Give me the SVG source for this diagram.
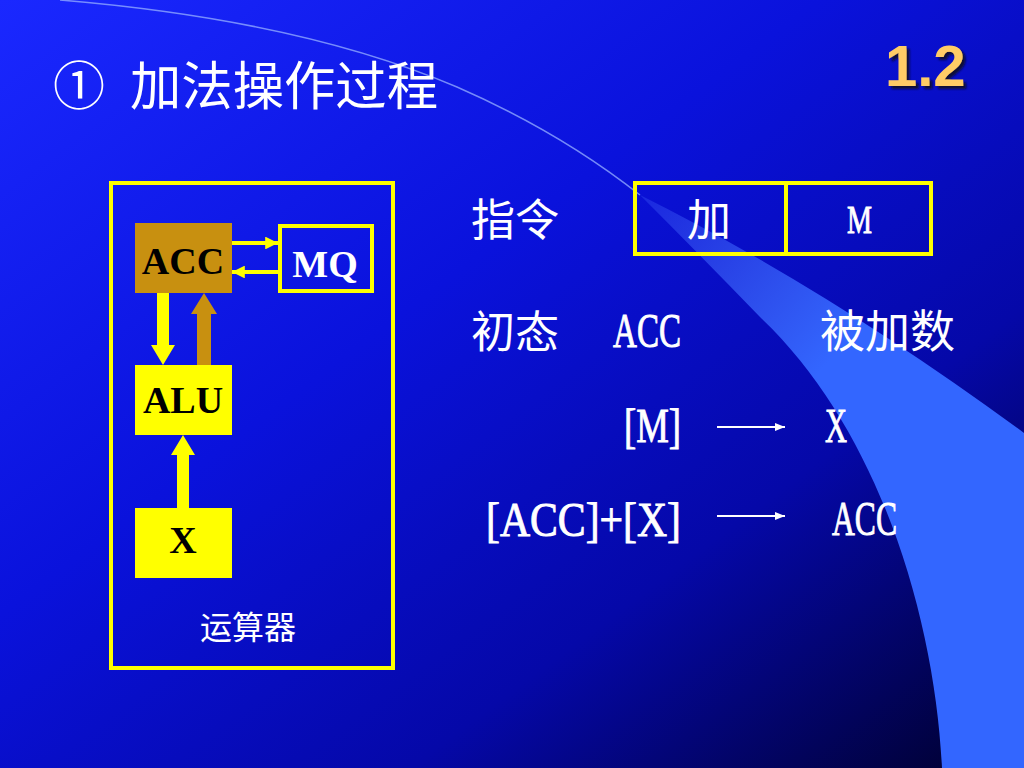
<svg xmlns="http://www.w3.org/2000/svg" width="1024" height="768" viewBox="0 0 1024 768">
<defs>
<linearGradient id="bg" x1="0" y1="0" x2="1" y2="1">
<stop offset="0" stop-color="#1a28ff"/>
<stop offset="0.4" stop-color="#0a12dc"/>
<stop offset="0.7" stop-color="#0508a8"/>
<stop offset="1" stop-color="#00002a"/>
</linearGradient>
<linearGradient id="band" gradientUnits="userSpaceOnUse" x1="640" y1="195" x2="830" y2="360">
<stop offset="0" stop-color="#4a6cff" stop-opacity="0.25"/>
<stop offset="1" stop-color="#3366ff" stop-opacity="1"/>
</linearGradient>
<filter id="shadow" x="-10%" y="-10%" width="130%" height="130%">
<feDropShadow dx="3" dy="3" stdDeviation="0.8" flood-color="#10102a" flood-opacity="0.9"/>
</filter>
<marker id="wa" viewBox="0 0 10 10" refX="10" refY="5" markerWidth="5" markerHeight="5" orient="auto" markerUnits="strokeWidth">
<path d="M0,1 L10,5 L0,9 Z" fill="#ffffff"/>
</marker>
<marker id="ya" viewBox="0 0 10 10" refX="10" refY="5" markerWidth="3.2" markerHeight="3.2" orient="auto" markerUnits="strokeWidth">
<path d="M0,0 L10,5 L0,10 Z" fill="#ffff00"/>
</marker>
</defs>
<style>
.cjk{font-family:"Noto Sans CJK SC","Noto Sans",sans-serif;fill:#ffffff}
.ser{font-family:"Liberation Serif",serif;fill:#ffffff;stroke:#ffffff;stroke-width:0.9}
.bold{font-family:"Liberation Serif",serif;font-weight:bold}
.ybox{fill:none;stroke:#ffff00;stroke-width:4}
</style>
<rect width="1024" height="768" fill="url(#bg)"/>
<path d="M640,195 Q830,290 1024,433 L1024,768 L942,768 C935,620 880,430 760,317 Q700,255 640,195 Z" fill="url(#band)"/>
<path d="M60,0 Q300,20 457,87 Q560,132 640,195" fill="none" stroke="#8fa8ff" stroke-width="1.5" stroke-opacity="0.8"/>

<g id="title">
<text class="cjk" x="53" y="105" font-size="52">①</text>
<text class="cjk" x="130" y="105" font-size="52" textLength="308" lengthAdjust="spacingAndGlyphs">加法操作过程</text>
</g>
<g id="pagenum">
<text x="885" y="86" font-family="Liberation Sans,Arial,sans-serif" font-weight="bold" font-size="58" fill="#ffcc66" filter="url(#shadow)">1.2</text>
</g>

<g id="alu-unit">
<rect x="111" y="183" width="282" height="485" class="ybox" stroke-width="4.5"/>
<text class="cjk" x="248" y="639" font-size="32" text-anchor="middle">运算器</text>
</g>
<g id="acc">
<rect x="135" y="223" width="97" height="70" fill="#c89010"/>
<text class="bold" x="183" y="274" font-size="38" text-anchor="middle" fill="#000000">ACC</text>
</g>
<g id="mq">
<rect x="280" y="226" width="92" height="65" class="ybox"/>
<text class="bold" x="325" y="277" font-size="38" text-anchor="middle" fill="#ffffff">MQ</text>
</g>
<g id="alu">
<rect x="135" y="365" width="97" height="70" fill="#ffff00"/>
<text class="bold" x="183" y="413" font-size="38" text-anchor="middle" fill="#000000">ALU</text>
</g>
<g id="x">
<rect x="135" y="508" width="97" height="70" fill="#ffff00"/>
<text class="bold" x="183" y="553" font-size="38" text-anchor="middle" fill="#000000">X</text>
</g>

<g id="connectors">
<line x1="232" y1="243" x2="278" y2="243" stroke="#ffff00" stroke-width="4" marker-end="url(#ya)"/>
<line x1="278" y1="272" x2="232" y2="272" stroke="#ffff00" stroke-width="4" marker-end="url(#ya)"/>
<path d="M157,293 L169,293 L169,345 L175,345 L163,365 L151,345 L157,345 Z" fill="#ffff00"/>
<path d="M197,365 L211,365 L211,314 L217,314 L204,293 L191,314 L197,314 Z" fill="#c89010"/>
<path d="M177,508 L189,508 L189,455 L195,455 L183,435 L171,455 L177,455 Z" fill="#ffff00"/>
<line x1="717" y1="427" x2="785" y2="427" stroke="#ffffff" stroke-width="2" marker-end="url(#wa)"/>
<line x1="717" y1="516" x2="785" y2="516" stroke="#ffffff" stroke-width="2" marker-end="url(#wa)"/>
</g>

<g id="instruction">
<text class="cjk" x="471" y="236" font-size="44">指令</text>
<rect x="635" y="183" width="296" height="71" class="ybox"/>
<line x1="786" y1="183" x2="786" y2="254" stroke="#ffff00" stroke-width="4"/>
<text class="cjk" x="709" y="236" font-size="44" text-anchor="middle">加</text>
<text class="ser" x="847" y="233" font-size="40" textLength="25" lengthAdjust="spacingAndGlyphs">M</text>
</g>
<g id="init">
<text class="cjk" x="471" y="348" font-size="44">初态</text>
<text class="ser" x="613" y="347" font-size="48" textLength="68" lengthAdjust="spacingAndGlyphs">ACC</text>
<text class="cjk" x="820" y="348" font-size="45">被加数</text>
</g>
<g id="step1">
<text class="ser" x="624" y="442" font-size="48" textLength="57" lengthAdjust="spacingAndGlyphs">[M]</text>
<text class="ser" x="825" y="442" font-size="48" textLength="22" lengthAdjust="spacingAndGlyphs">X</text>
</g>
<g id="step2">
<text class="ser" x="486" y="536" font-size="48" textLength="195" lengthAdjust="spacingAndGlyphs">[ACC]+[X]</text>
<text class="ser" x="832" y="535" font-size="48" textLength="65" lengthAdjust="spacingAndGlyphs">ACC</text>
</g>
</svg>
